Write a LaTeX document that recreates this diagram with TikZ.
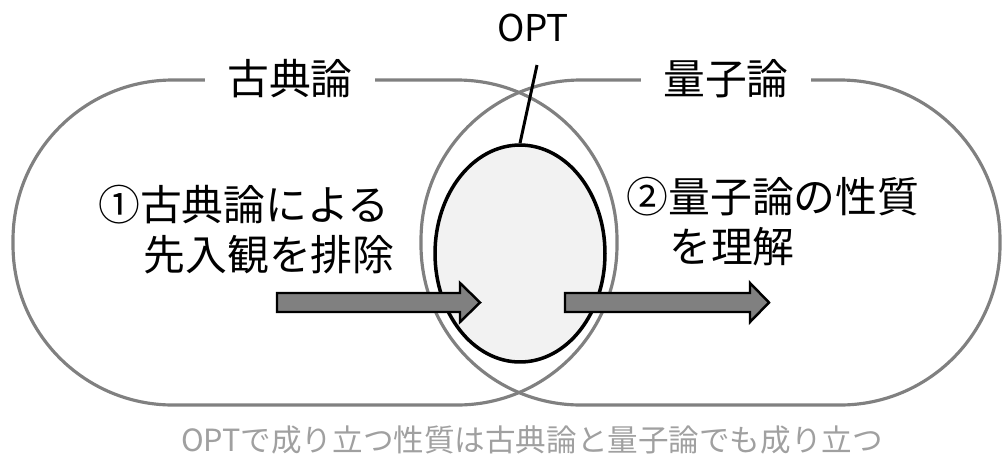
\documentclass[tikz,border=0pt]{standalone}
\usepackage{fontspec}
\setmainfont{Noto Sans CJK JP}
\usetikzlibrary{shapes.geometric}
\definecolor{setgray}{HTML}{808080}
\definecolor{notegray}{HTML}{A0A0A0}
\definecolor{optfill}{HTML}{F2F2F2}
\tikzset{
  setbox/.style={draw=setgray, line width=1.8pt, rounded corners=3.2cm},
  setlabel/.style={fill=white, inner xsep=0.44cm, inner ysep=2pt, font=\fontsize{23.8pt}{28pt}\selectfont},
  bodytext/.style={inner sep=0pt, font=\fontsize{23.8pt}{28pt}\selectfont},
  blockarrow/.style={fill=setgray, draw=black, line width=1.4pt, line join=miter},
}
\begin{document}
\begin{tikzpicture}[x=0.02cm, y=-0.02cm]
\useasboundingbox (0,0) rectangle (1003,454);
% two overlapping sets
\draw[setbox] (13,80) rectangle (617,405);
\draw[setbox] (421,80) rectangle (1000,405);
\node[setlabel] (classical) at (290,79) {古典論};
\node[setlabel] (quantum) at (726,79) {量子論};
% OPT ellipse
\node[ellipse, draw=black, fill=optfill, line width=2pt, minimum width=3.4cm, minimum height=4.34cm, inner sep=0pt] (optell) at (520,253.5) {};
\node[inner sep=0pt, font=\fontsize{21pt}{24pt}\selectfont] (optlabel) at (533,28) {OPT};
\coordinate (optline) at (537,65);
\draw[line width=1.7pt] (optline) -- (optell.north);
% texts
\node[bodytext] (l1) at (244,205) {①古典論による};
\node[bodytext] (l2) at (269,255) {先入観を排除};
\node[bodytext] (r1) at (773,197) {②量子論の性質};
\node[bodytext] (r2) at (732,247) {を理解};
% block arrows
\draw[blockarrow] (277,293) -- (460,293) -- (460,283) -- (480,302.5) -- (460,322) -- (460,312) -- (277,312) -- cycle;
\draw[blockarrow] (565,293) -- (750,293) -- (750,283) -- (769,302.5) -- (750,322) -- (750,312) -- (565,312) -- cycle;
% note
\node[inner sep=0pt, text=notegray, font=\fontsize{17.4pt}{20pt}\selectfont] (note) at (532,440) {OPTで成り立つ性質は古典論と量子論でも成り立つ};
\end{tikzpicture}
\end{document}
